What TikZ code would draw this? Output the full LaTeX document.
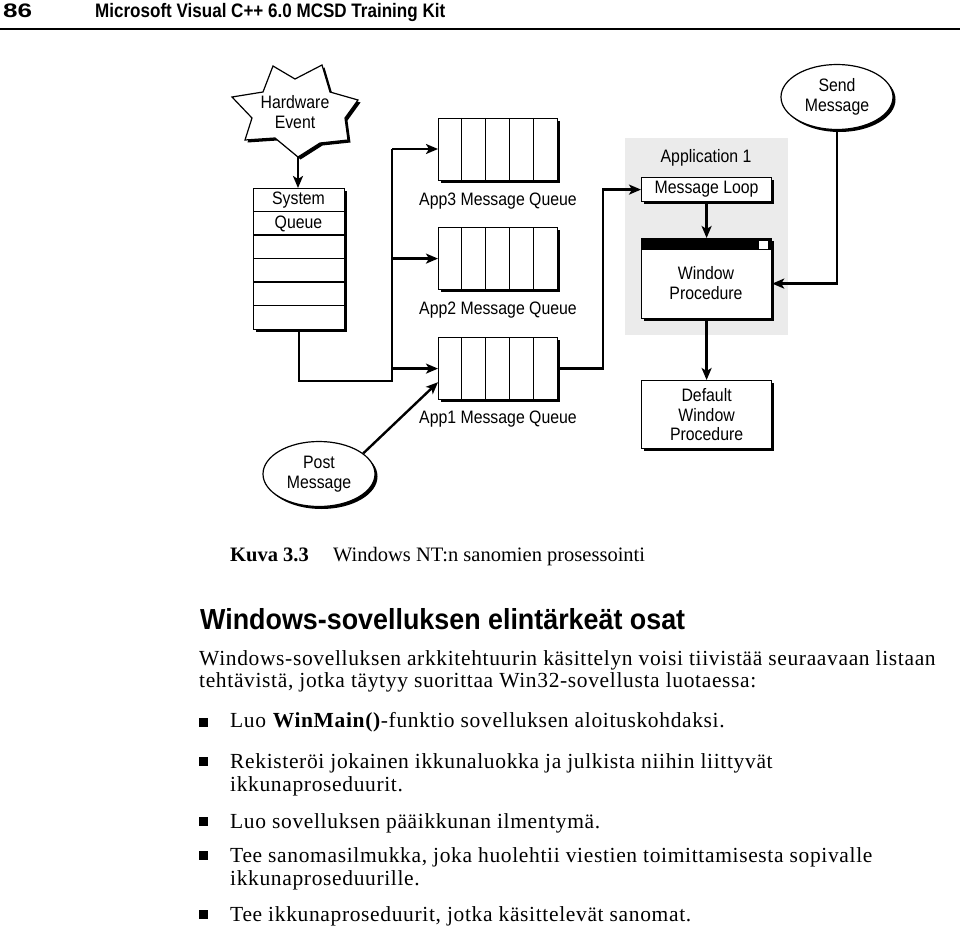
\documentclass[tikz,border=0pt]{standalone}
\usepackage{fontspec}
\usepackage{graphicx}
\usetikzlibrary{arrows.meta,shadows,shapes.geometric,calc}
\newfontfamily\diagfont[FakeStretch=0.88]{Liberation Sans}
\newfontfamily\headfont{Liberation Sans}
\newfontfamily\bodyfont{Liberation Serif}
\newfontfamily\bodywide[LetterSpace=3]{Liberation Serif}
\begin{document}
\begin{tikzpicture}[x=1pt,y=-1pt,
  shad/.style={drop shadow={shadow xshift=2.5pt,shadow yshift=-2.5pt,fill=black,opacity=1}},
  box/.style={draw=black,line width=1.2pt,fill=white,shad,inner sep=0pt},
  lbl/.style={font=\diagfont\fontsize{18}{19.5}\selectfont,align=center,inner sep=0pt},
  conn/.style={line width=2.4pt},
  arr/.style={conn,-{Stealth[length=12pt,width=10pt,inset=3pt]}},
  cell/.style={line width=1.2pt},
  body/.style={font=\bodywide\fontsize{21.5}{23}\selectfont,anchor=base west,inner sep=0pt},
  bulletsq/.style={fill=black,minimum size=8.5pt,inner sep=0pt,anchor=south west},
]
\useasboundingbox (0,0) rectangle (960,931);

% ---------- running head ----------
\node[anchor=base west,inner sep=0pt] (pagenum) at (3,18)
  {\resizebox{29pt}{\height}{\headfont\bfseries\fontsize{19.5}{20}\selectfont 86}};
\node[anchor=base west,inner sep=0pt] (runhead) at (95,18)
  {\resizebox{350pt}{\height}{\headfont\bfseries\fontsize{19.5}{20}\selectfont Microsoft Visual C++ 6.0 MCSD Training Kit}};
\coordinate (ruleL) at (0,29);
\coordinate (ruleR) at (960,29);
\draw[line width=1.4pt] (ruleL) -- (ruleR);

% ---------- Application 1 background ----------
\node[fill=black!8,minimum width=163pt,minimum height=197pt,anchor=north west,inner sep=0pt] (appbg) at (625,138) {};
\node[lbl] (apptitle) at (706,158) {Application 1};

% ---------- Hardware event star ----------
\draw[box] (273,66) -- (295,79) -- (322,65) -- (330,92) -- (358,100) -- (345,118)
  -- (348,140) -- (320,143) -- (298,157) -- (275,138) -- (245,140) -- (252,118)
  -- (232,97) -- (263,92) -- cycle;
\node[lbl] (hw) at (295,112) {Hardware\\Event};
\coordinate (hwb) at (298,157);

% ---------- System queue ----------
\node[box,minimum width=91pt,minimum height=141pt,anchor=north west] (sysq) at (253,188) {};
\foreach \i in {1,...,5}
  \draw[cell] ($(sysq.north west)+(0,\i*23.5)$) -- ($(sysq.north east)+(0,\i*23.5)$);
\node[lbl] (sysqa) at (298.5,200) {System};
\node[lbl] (sysqb) at (298.5,224) {Queue};

% ---------- App queues ----------
\foreach \n/\y in {app3/118,app2/227,app1/337}{
  \node[box,minimum width=119pt,minimum height=62pt,anchor=north west] (\n) at (438,\y) {};
  \foreach \i in {1,...,4}
    \draw[cell] ($(\n.north west)+(\i*23.8,0)$) -- ($(\n.south west)+(\i*23.8,0)$);
}
\node[lbl] (app3l) at (498,201) {App3 Message Queue};
\node[lbl] (app2l) at (498,310) {App2 Message Queue};
\node[lbl] (app1l) at (498,419) {App1 Message Queue};

% ---------- Application 1 contents ----------
\node[box,lbl,minimum width=130pt,minimum height=24pt,anchor=north west] (msgloop) at (641,177) {Message Loop};
\node[box,minimum width=130pt,minimum height=80pt,anchor=north west] (winproc) at (641,238) {};
\fill (winproc.north west) rectangle ($(winproc.north east)+(0,12)$);
\fill[white] ($(winproc.north east)+(-13,3)$) rectangle ($(winproc.north east)+(-4,11)$);
\node[lbl] (winprocl) at (706,283) {Window\\Procedure};

\node[box,lbl,minimum width=130pt,minimum height=68pt,anchor=north west] (defproc) at (641,380) {Default\\Window\\Procedure};

% ---------- ellipses ----------
\node[box,lbl,ellipse,minimum width=112pt,minimum height=65pt] (sendmsg) at (837,97) {Send\\Message};
\node[box,lbl,ellipse,minimum width=112pt,minimum height=65pt] (postmsg) at (319,474) {Post\\Message};

% ---------- connectors ----------
\draw[arr] (hwb) -- (hwb |- sysq.north);
\coordinate (busT) at (392,149);
\coordinate (busB) at (392,381);
\draw[conn] (sysq.south) |- (busB) -- (busT);
\draw[arr] (busT) -- (busT -| app3.west);
\draw[arr] (busT |- app2.west) -- (app2.west);
\draw[arr] (busT |- app1.west) -- (app1.west);
\draw[arr] (app1.east) -- ++(45,0) |- (msgloop.west);
\draw[arr] (msgloop.south) -- (winproc.north);
\draw[arr] (sendmsg.south) |- ($(winproc.east)+(0,5)$);
\draw[arr] (winproc.south) -- (defproc.north);
\draw[arr] (postmsg.25) -- ($(app1.south west)+(0,-18)$);

% ---------- caption ----------
\node[body,font=\bodyfont\bfseries\fontsize{20.5}{23}\selectfont] (figno) at (230,561) {Kuva 3.3};
\node[body,font=\bodyfont\fontsize{20.5}{23}\selectfont] (figcap) at (333,561) {Windows NT:n sanomien prosessointi};

% ---------- heading ----------
\node[anchor=base west,inner sep=0pt] (heading) at (200,629)
  {\resizebox{485pt}{\height}{\headfont\bfseries\fontsize{29}{30}\selectfont Windows-sovelluksen elintärkeät osat}};

% ---------- body ----------
\node[body] (p1) at (199,665) {Windows-sovelluksen arkkitehtuurin käsittelyn voisi tiivistää seuraavaan listaan};
\node[body] (p2) at (199,687) {tehtävistä, jotka täytyy suorittaa Win32-sovellusta luotaessa:};

\node[bulletsq] (bu1) at (199,727) {};
\node[body] (i1) at (230,727) {Luo \textbf{WinMain()}-funktio sovelluksen aloituskohdaksi.};
\node[bulletsq] (bu2) at (199,766) {};
\node[body] (i2a) at (230,768) {Rekisteröi jokainen ikkunaluokka ja julkista niihin liittyvät};
\node[body] (i2b) at (230,791) {ikkunaproseduurit.};
\node[bulletsq] (bu3) at (199,826) {};
\node[body] (i3) at (230,828) {Luo sovelluksen pääikkunan ilmentymä.};
\node[bulletsq] (bu4) at (199,860) {};
\node[body] (i4a) at (230,862) {Tee sanomasilmukka, joka huolehtii viestien toimittamisesta sopivalle};
\node[body] (i4b) at (230,885) {ikkunaproseduurille.};
\node[bulletsq] (bu5) at (199,919) {};
\node[body] (i5) at (230,921) {Tee ikkunaproseduurit, jotka käsittelevät sanomat.};
\end{tikzpicture}
\end{document}
